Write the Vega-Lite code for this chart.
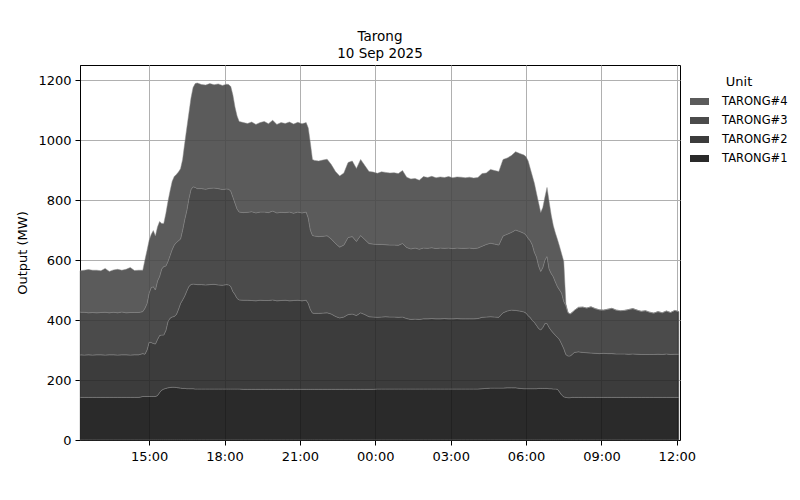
{
"$schema": "https://vega.github.io/schema/vega-lite/v6.json",
"width": 600, "height": 375,
"autosize": {"type": "none"},
"padding": {"left": 80, "top": 65, "right": 120, "bottom": 60},
"background": "white",
"title": {"text": ["Tarong", "10 Sep 2025"], "fontSize": 13.5, "font": "DejaVu Sans", "fontWeight": "normal", "anchor": "middle", "offset": 5, "lineHeight": 17, "color": "black"},
"data": {"values": [
{"t":"2025-09-09T12:15","TARONG#1":142,"TARONG#2":142,"TARONG#3":142,"TARONG#4":138},
{"t":"2025-09-09T12:25","TARONG#1":142,"TARONG#2":141,"TARONG#3":143,"TARONG#4":140},
{"t":"2025-09-09T12:35","TARONG#1":142,"TARONG#2":142,"TARONG#3":140,"TARONG#4":144},
{"t":"2025-09-09T12:45","TARONG#1":142,"TARONG#2":141,"TARONG#3":142,"TARONG#4":141},
{"t":"2025-09-09T12:55","TARONG#1":142,"TARONG#2":142,"TARONG#3":140,"TARONG#4":142},
{"t":"2025-09-09T13:05","TARONG#1":142,"TARONG#2":142,"TARONG#3":141,"TARONG#4":139},
{"t":"2025-09-09T13:15","TARONG#1":142,"TARONG#2":141,"TARONG#3":143,"TARONG#4":146},
{"t":"2025-09-09T13:25","TARONG#1":142,"TARONG#2":142,"TARONG#3":140,"TARONG#4":138},
{"t":"2025-09-09T13:35","TARONG#1":142,"TARONG#2":142,"TARONG#3":142,"TARONG#4":141},
{"t":"2025-09-09T13:45","TARONG#1":142,"TARONG#2":141,"TARONG#3":141,"TARONG#4":145},
{"t":"2025-09-09T13:55","TARONG#1":142,"TARONG#2":142,"TARONG#3":143,"TARONG#4":139},
{"t":"2025-09-09T14:05","TARONG#1":142,"TARONG#2":142,"TARONG#3":140,"TARONG#4":145},
{"t":"2025-09-09T14:15","TARONG#1":142,"TARONG#2":141,"TARONG#3":142,"TARONG#4":150},
{"t":"2025-09-09T14:25","TARONG#1":142,"TARONG#2":142,"TARONG#3":141,"TARONG#4":140},
{"t":"2025-09-09T14:35","TARONG#1":142,"TARONG#2":142,"TARONG#3":141,"TARONG#4":141},
{"t":"2025-09-09T14:45","TARONG#1":145,"TARONG#2":143,"TARONG#3":140,"TARONG#4":138},
{"t":"2025-09-09T14:50","TARONG#1":145,"TARONG#2":141,"TARONG#3":153,"TARONG#4":161},
{"t":"2025-09-09T14:55","TARONG#1":145,"TARONG#2":155,"TARONG#3":155,"TARONG#4":177},
{"t":"2025-09-09T15:00","TARONG#1":145,"TARONG#2":181,"TARONG#3":164,"TARONG#4":175},
{"t":"2025-09-09T15:05","TARONG#1":145,"TARONG#2":180,"TARONG#3":183,"TARONG#4":177},
{"t":"2025-09-09T15:10","TARONG#1":145,"TARONG#2":177,"TARONG#3":189,"TARONG#4":187},
{"t":"2025-09-09T15:15","TARONG#1":145,"TARONG#2":175,"TARONG#3":180,"TARONG#4":180},
{"t":"2025-09-09T15:20","TARONG#1":148,"TARONG#2":187,"TARONG#3":195,"TARONG#4":180},
{"t":"2025-09-09T15:25","TARONG#1":158,"TARONG#2":190,"TARONG#3":197,"TARONG#4":183},
{"t":"2025-09-09T15:30","TARONG#1":166,"TARONG#2":184,"TARONG#3":220,"TARONG#4":152},
{"t":"2025-09-09T15:35","TARONG#1":170,"TARONG#2":180,"TARONG#3":228,"TARONG#4":144},
{"t":"2025-09-09T15:40","TARONG#1":172,"TARONG#2":193,"TARONG#3":215,"TARONG#4":175},
{"t":"2025-09-09T15:45","TARONG#1":174,"TARONG#2":221,"TARONG#3":200,"TARONG#4":200},
{"t":"2025-09-09T15:50","TARONG#1":175,"TARONG#2":231,"TARONG#3":209,"TARONG#4":215},
{"t":"2025-09-09T15:55","TARONG#1":176,"TARONG#2":234,"TARONG#3":225,"TARONG#4":227},
{"t":"2025-09-09T16:00","TARONG#1":176,"TARONG#2":236,"TARONG#3":238,"TARONG#4":228},
{"t":"2025-09-09T16:05","TARONG#1":175,"TARONG#2":243,"TARONG#3":240,"TARONG#4":227},
{"t":"2025-09-09T16:10","TARONG#1":174,"TARONG#2":261,"TARONG#3":229,"TARONG#4":229},
{"t":"2025-09-09T16:15","TARONG#1":173,"TARONG#2":282,"TARONG#3":215,"TARONG#4":234},
{"t":"2025-09-09T16:20","TARONG#1":172,"TARONG#2":295,"TARONG#3":233,"TARONG#4":235},
{"t":"2025-09-09T16:25","TARONG#1":172,"TARONG#2":308,"TARONG#3":255,"TARONG#4":254},
{"t":"2025-09-09T16:30","TARONG#1":171,"TARONG#2":326,"TARONG#3":268,"TARONG#4":275},
{"t":"2025-09-09T16:35","TARONG#1":171,"TARONG#2":341,"TARONG#3":293,"TARONG#4":285},
{"t":"2025-09-09T16:40","TARONG#1":171,"TARONG#2":347,"TARONG#3":317,"TARONG#4":305},
{"t":"2025-09-09T16:45","TARONG#1":171,"TARONG#2":349,"TARONG#3":324,"TARONG#4":331},
{"t":"2025-09-09T16:50","TARONG#1":170,"TARONG#2":349,"TARONG#3":323,"TARONG#4":346},
{"t":"2025-09-09T16:55","TARONG#1":170,"TARONG#2":348,"TARONG#3":320,"TARONG#4":352},
{"t":"2025-09-09T17:05","TARONG#1":170,"TARONG#2":348,"TARONG#3":320,"TARONG#4":347},
{"t":"2025-09-09T17:15","TARONG#1":170,"TARONG#2":347,"TARONG#3":319,"TARONG#4":347},
{"t":"2025-09-09T17:25","TARONG#1":170,"TARONG#2":348,"TARONG#3":321,"TARONG#4":349},
{"t":"2025-09-09T17:35","TARONG#1":170,"TARONG#2":349,"TARONG#3":321,"TARONG#4":344},
{"t":"2025-09-09T17:45","TARONG#1":170,"TARONG#2":347,"TARONG#3":321,"TARONG#4":349},
{"t":"2025-09-09T17:55","TARONG#1":170,"TARONG#2":346,"TARONG#3":319,"TARONG#4":347},
{"t":"2025-09-09T18:05","TARONG#1":170,"TARONG#2":348,"TARONG#3":319,"TARONG#4":349},
{"t":"2025-09-09T18:10","TARONG#1":170,"TARONG#2":347,"TARONG#3":319,"TARONG#4":349},
{"t":"2025-09-09T18:15","TARONG#1":170,"TARONG#2":342,"TARONG#3":318,"TARONG#4":348},
{"t":"2025-09-09T18:20","TARONG#1":170,"TARONG#2":325,"TARONG#3":315,"TARONG#4":340},
{"t":"2025-09-09T18:25","TARONG#1":170,"TARONG#2":315,"TARONG#3":305,"TARONG#4":320},
{"t":"2025-09-09T18:30","TARONG#1":170,"TARONG#2":302,"TARONG#3":298,"TARONG#4":310},
{"t":"2025-09-09T18:35","TARONG#1":170,"TARONG#2":297,"TARONG#3":293,"TARONG#4":302},
{"t":"2025-09-09T18:45","TARONG#1":169,"TARONG#2":297,"TARONG#3":292,"TARONG#4":300},
{"t":"2025-09-09T18:55","TARONG#1":169,"TARONG#2":297,"TARONG#3":293,"TARONG#4":296},
{"t":"2025-09-09T19:05","TARONG#1":169,"TARONG#2":296,"TARONG#3":296,"TARONG#4":299},
{"t":"2025-09-09T19:15","TARONG#1":169,"TARONG#2":295,"TARONG#3":293,"TARONG#4":295},
{"t":"2025-09-09T19:25","TARONG#1":169,"TARONG#2":297,"TARONG#3":294,"TARONG#4":298},
{"t":"2025-09-09T19:35","TARONG#1":169,"TARONG#2":296,"TARONG#3":295,"TARONG#4":302},
{"t":"2025-09-09T19:45","TARONG#1":169,"TARONG#2":296,"TARONG#3":293,"TARONG#4":296},
{"t":"2025-09-09T19:55","TARONG#1":169,"TARONG#2":298,"TARONG#3":296,"TARONG#4":303},
{"t":"2025-09-09T20:05","TARONG#1":169,"TARONG#2":295,"TARONG#3":293,"TARONG#4":295},
{"t":"2025-09-09T20:15","TARONG#1":169,"TARONG#2":296,"TARONG#3":294,"TARONG#4":299},
{"t":"2025-09-09T20:25","TARONG#1":169,"TARONG#2":297,"TARONG#3":292,"TARONG#4":297},
{"t":"2025-09-09T20:35","TARONG#1":169,"TARONG#2":295,"TARONG#3":296,"TARONG#4":300},
{"t":"2025-09-09T20:45","TARONG#1":169,"TARONG#2":296,"TARONG#3":291,"TARONG#4":297},
{"t":"2025-09-09T20:55","TARONG#1":169,"TARONG#2":297,"TARONG#3":294,"TARONG#4":299},
{"t":"2025-09-09T21:05","TARONG#1":169,"TARONG#2":295,"TARONG#3":293,"TARONG#4":297},
{"t":"2025-09-09T21:15","TARONG#1":169,"TARONG#2":297,"TARONG#3":294,"TARONG#4":298},
{"t":"2025-09-09T21:20","TARONG#1":169,"TARONG#2":286,"TARONG#3":285,"TARONG#4":300},
{"t":"2025-09-09T21:25","TARONG#1":169,"TARONG#2":266,"TARONG#3":265,"TARONG#4":290},
{"t":"2025-09-09T21:30","TARONG#1":169,"TARONG#2":254,"TARONG#3":259,"TARONG#4":253},
{"t":"2025-09-09T21:35","TARONG#1":169,"TARONG#2":253,"TARONG#3":258,"TARONG#4":252},
{"t":"2025-09-09T21:45","TARONG#1":169,"TARONG#2":253,"TARONG#3":256,"TARONG#4":252},
{"t":"2025-09-09T21:55","TARONG#1":169,"TARONG#2":254,"TARONG#3":256,"TARONG#4":254},
{"t":"2025-09-09T22:05","TARONG#1":169,"TARONG#2":255,"TARONG#3":257,"TARONG#4":255},
{"t":"2025-09-09T22:15","TARONG#1":169,"TARONG#2":251,"TARONG#3":250,"TARONG#4":248},
{"t":"2025-09-09T22:25","TARONG#1":169,"TARONG#2":243,"TARONG#3":243,"TARONG#4":240},
{"t":"2025-09-09T22:35","TARONG#1":169,"TARONG#2":238,"TARONG#3":236,"TARONG#4":237},
{"t":"2025-09-09T22:45","TARONG#1":169,"TARONG#2":241,"TARONG#3":240,"TARONG#4":240},
{"t":"2025-09-09T22:55","TARONG#1":169,"TARONG#2":249,"TARONG#3":257,"TARONG#4":250},
{"t":"2025-09-09T23:05","TARONG#1":169,"TARONG#2":251,"TARONG#3":258,"TARONG#4":252},
{"t":"2025-09-09T23:15","TARONG#1":169,"TARONG#2":246,"TARONG#3":247,"TARONG#4":243},
{"t":"2025-09-09T23:25","TARONG#1":169,"TARONG#2":255,"TARONG#3":258,"TARONG#4":253},
{"t":"2025-09-09T23:35","TARONG#1":169,"TARONG#2":249,"TARONG#3":250,"TARONG#4":247},
{"t":"2025-09-09T23:45","TARONG#1":169,"TARONG#2":242,"TARONG#3":244,"TARONG#4":240},
{"t":"2025-09-09T23:55","TARONG#1":169,"TARONG#2":241,"TARONG#3":243,"TARONG#4":240},
{"t":"2025-09-10T00:05","TARONG#1":170,"TARONG#2":239,"TARONG#3":243,"TARONG#4":237},
{"t":"2025-09-10T00:15","TARONG#1":170,"TARONG#2":240,"TARONG#3":242,"TARONG#4":242},
{"t":"2025-09-10T00:25","TARONG#1":170,"TARONG#2":241,"TARONG#3":240,"TARONG#4":241},
{"t":"2025-09-10T00:35","TARONG#1":170,"TARONG#2":240,"TARONG#3":240,"TARONG#4":240},
{"t":"2025-09-10T00:45","TARONG#1":170,"TARONG#2":240,"TARONG#3":240,"TARONG#4":241},
{"t":"2025-09-10T00:55","TARONG#1":170,"TARONG#2":239,"TARONG#3":240,"TARONG#4":239},
{"t":"2025-09-10T01:05","TARONG#1":170,"TARONG#2":240,"TARONG#3":245,"TARONG#4":243},
{"t":"2025-09-10T01:15","TARONG#1":170,"TARONG#2":235,"TARONG#3":237,"TARONG#4":234},
{"t":"2025-09-10T01:25","TARONG#1":170,"TARONG#2":232,"TARONG#3":235,"TARONG#4":233},
{"t":"2025-09-10T01:35","TARONG#1":170,"TARONG#2":233,"TARONG#3":237,"TARONG#4":232},
{"t":"2025-09-10T01:45","TARONG#1":170,"TARONG#2":232,"TARONG#3":234,"TARONG#4":230},
{"t":"2025-09-10T01:55","TARONG#1":170,"TARONG#2":234,"TARONG#3":236,"TARONG#4":238},
{"t":"2025-09-10T02:05","TARONG#1":170,"TARONG#2":234,"TARONG#3":235,"TARONG#4":236},
{"t":"2025-09-10T02:15","TARONG#1":170,"TARONG#2":235,"TARONG#3":236,"TARONG#4":238},
{"t":"2025-09-10T02:25","TARONG#1":170,"TARONG#2":234,"TARONG#3":234,"TARONG#4":236},
{"t":"2025-09-10T02:35","TARONG#1":170,"TARONG#2":234,"TARONG#3":236,"TARONG#4":237},
{"t":"2025-09-10T02:45","TARONG#1":170,"TARONG#2":235,"TARONG#3":234,"TARONG#4":236},
{"t":"2025-09-10T02:55","TARONG#1":170,"TARONG#2":234,"TARONG#3":236,"TARONG#4":238},
{"t":"2025-09-10T03:05","TARONG#1":170,"TARONG#2":234,"TARONG#3":234,"TARONG#4":236},
{"t":"2025-09-10T03:15","TARONG#1":170,"TARONG#2":235,"TARONG#3":235,"TARONG#4":237},
{"t":"2025-09-10T03:25","TARONG#1":170,"TARONG#2":234,"TARONG#3":235,"TARONG#4":237},
{"t":"2025-09-10T03:35","TARONG#1":170,"TARONG#2":234,"TARONG#3":235,"TARONG#4":235},
{"t":"2025-09-10T03:45","TARONG#1":170,"TARONG#2":234,"TARONG#3":236,"TARONG#4":236},
{"t":"2025-09-10T03:55","TARONG#1":170,"TARONG#2":234,"TARONG#3":234,"TARONG#4":235},
{"t":"2025-09-10T04:05","TARONG#1":170,"TARONG#2":235,"TARONG#3":235,"TARONG#4":235},
{"t":"2025-09-10T04:15","TARONG#1":171,"TARONG#2":238,"TARONG#3":237,"TARONG#4":242},
{"t":"2025-09-10T04:25","TARONG#1":172,"TARONG#2":238,"TARONG#3":242,"TARONG#4":238},
{"t":"2025-09-10T04:35","TARONG#1":173,"TARONG#2":238,"TARONG#3":245,"TARONG#4":246},
{"t":"2025-09-10T04:45","TARONG#1":173,"TARONG#2":237,"TARONG#3":243,"TARONG#4":245},
{"t":"2025-09-10T04:55","TARONG#1":173,"TARONG#2":236,"TARONG#3":241,"TARONG#4":245},
{"t":"2025-09-10T05:05","TARONG#1":173,"TARONG#2":251,"TARONG#3":256,"TARONG#4":255},
{"t":"2025-09-10T05:15","TARONG#1":174,"TARONG#2":256,"TARONG#3":256,"TARONG#4":254},
{"t":"2025-09-10T05:25","TARONG#1":174,"TARONG#2":259,"TARONG#3":259,"TARONG#4":256},
{"t":"2025-09-10T05:35","TARONG#1":174,"TARONG#2":258,"TARONG#3":268,"TARONG#4":261},
{"t":"2025-09-10T05:45","TARONG#1":172,"TARONG#2":258,"TARONG#3":265,"TARONG#4":260},
{"t":"2025-09-10T05:55","TARONG#1":171,"TARONG#2":256,"TARONG#3":262,"TARONG#4":261},
{"t":"2025-09-10T06:00","TARONG#1":171,"TARONG#2":252,"TARONG#3":260,"TARONG#4":261},
{"t":"2025-09-10T06:05","TARONG#1":171,"TARONG#2":243,"TARONG#3":258,"TARONG#4":258},
{"t":"2025-09-10T06:10","TARONG#1":171,"TARONG#2":237,"TARONG#3":256,"TARONG#4":241},
{"t":"2025-09-10T06:15","TARONG#1":171,"TARONG#2":227,"TARONG#3":252,"TARONG#4":230},
{"t":"2025-09-10T06:20","TARONG#1":171,"TARONG#2":221,"TARONG#3":233,"TARONG#4":230},
{"t":"2025-09-10T06:25","TARONG#1":171,"TARONG#2":211,"TARONG#3":228,"TARONG#4":212},
{"t":"2025-09-10T06:30","TARONG#1":172,"TARONG#2":200,"TARONG#3":208,"TARONG#4":210},
{"t":"2025-09-10T06:35","TARONG#1":172,"TARONG#2":195,"TARONG#3":195,"TARONG#4":196},
{"t":"2025-09-10T06:40","TARONG#1":172,"TARONG#2":203,"TARONG#3":200,"TARONG#4":200},
{"t":"2025-09-10T06:45","TARONG#1":172,"TARONG#2":216,"TARONG#3":212,"TARONG#4":210},
{"t":"2025-09-10T06:50","TARONG#1":172,"TARONG#2":216,"TARONG#3":224,"TARONG#4":230},
{"t":"2025-09-10T06:55","TARONG#1":171,"TARONG#2":204,"TARONG#3":195,"TARONG#4":225},
{"t":"2025-09-10T07:00","TARONG#1":171,"TARONG#2":194,"TARONG#3":190,"TARONG#4":195},
{"t":"2025-09-10T07:05","TARONG#1":170,"TARONG#2":187,"TARONG#3":187,"TARONG#4":171},
{"t":"2025-09-10T07:10","TARONG#1":170,"TARONG#2":179,"TARONG#3":178,"TARONG#4":163},
{"t":"2025-09-10T07:15","TARONG#1":169,"TARONG#2":173,"TARONG#3":169,"TARONG#4":157},
{"t":"2025-09-10T07:20","TARONG#1":160,"TARONG#2":174,"TARONG#3":166,"TARONG#4":145},
{"t":"2025-09-10T07:25","TARONG#1":150,"TARONG#2":170,"TARONG#3":169,"TARONG#4":131},
{"t":"2025-09-10T07:30","TARONG#1":144,"TARONG#2":161,"TARONG#3":157,"TARONG#4":133},
{"t":"2025-09-10T07:35","TARONG#1":142,"TARONG#2":143,"TARONG#3":163,"TARONG#4":7},
{"t":"2025-09-10T07:40","TARONG#1":141,"TARONG#2":139,"TARONG#3":145,"TARONG#4":0},
{"t":"2025-09-10T07:45","TARONG#1":141,"TARONG#2":139,"TARONG#3":140,"TARONG#4":0},
{"t":"2025-09-10T07:50","TARONG#1":142,"TARONG#2":143,"TARONG#3":140,"TARONG#4":0},
{"t":"2025-09-10T07:55","TARONG#1":142,"TARONG#2":150,"TARONG#3":140,"TARONG#4":0},
{"t":"2025-09-10T08:05","TARONG#1":142,"TARONG#2":152,"TARONG#3":148,"TARONG#4":0},
{"t":"2025-09-10T08:15","TARONG#1":142,"TARONG#2":150,"TARONG#3":151,"TARONG#4":0},
{"t":"2025-09-10T08:25","TARONG#1":142,"TARONG#2":149,"TARONG#3":149,"TARONG#4":0},
{"t":"2025-09-10T08:35","TARONG#1":142,"TARONG#2":148,"TARONG#3":154,"TARONG#4":0},
{"t":"2025-09-10T08:45","TARONG#1":142,"TARONG#2":147,"TARONG#3":149,"TARONG#4":0},
{"t":"2025-09-10T08:55","TARONG#1":142,"TARONG#2":146,"TARONG#3":146,"TARONG#4":0},
{"t":"2025-09-10T09:05","TARONG#1":142,"TARONG#2":147,"TARONG#3":144,"TARONG#4":0},
{"t":"2025-09-10T09:15","TARONG#1":142,"TARONG#2":146,"TARONG#3":148,"TARONG#4":0},
{"t":"2025-09-10T09:25","TARONG#1":142,"TARONG#2":146,"TARONG#3":151,"TARONG#4":0},
{"t":"2025-09-10T09:35","TARONG#1":142,"TARONG#2":145,"TARONG#3":146,"TARONG#4":0},
{"t":"2025-09-10T09:45","TARONG#1":142,"TARONG#2":145,"TARONG#3":144,"TARONG#4":0},
{"t":"2025-09-10T09:55","TARONG#1":142,"TARONG#2":145,"TARONG#3":145,"TARONG#4":0},
{"t":"2025-09-10T10:05","TARONG#1":142,"TARONG#2":144,"TARONG#3":149,"TARONG#4":0},
{"t":"2025-09-10T10:15","TARONG#1":142,"TARONG#2":145,"TARONG#3":151,"TARONG#4":0},
{"t":"2025-09-10T10:25","TARONG#1":142,"TARONG#2":144,"TARONG#3":147,"TARONG#4":0},
{"t":"2025-09-10T10:35","TARONG#1":142,"TARONG#2":143,"TARONG#3":144,"TARONG#4":0},
{"t":"2025-09-10T10:45","TARONG#1":142,"TARONG#2":143,"TARONG#3":146,"TARONG#4":0},
{"t":"2025-09-10T10:55","TARONG#1":142,"TARONG#2":143,"TARONG#3":141,"TARONG#4":0},
{"t":"2025-09-10T11:05","TARONG#1":142,"TARONG#2":143,"TARONG#3":138,"TARONG#4":0},
{"t":"2025-09-10T11:15","TARONG#1":142,"TARONG#2":144,"TARONG#3":142,"TARONG#4":0},
{"t":"2025-09-10T11:25","TARONG#1":142,"TARONG#2":143,"TARONG#3":139,"TARONG#4":0},
{"t":"2025-09-10T11:35","TARONG#1":142,"TARONG#2":145,"TARONG#3":143,"TARONG#4":0},
{"t":"2025-09-10T11:45","TARONG#1":142,"TARONG#2":143,"TARONG#3":140,"TARONG#4":0},
{"t":"2025-09-10T11:55","TARONG#1":142,"TARONG#2":144,"TARONG#3":146,"TARONG#4":0},
{"t":"2025-09-10T12:05","TARONG#1":142,"TARONG#2":144,"TARONG#3":142,"TARONG#4":0}
]},
"transform": [{"fold": ["TARONG#1", "TARONG#2", "TARONG#3", "TARONG#4"], "as": ["Unit", "MW"]}],
"mark": {"type": "area", "fillOpacity": 0.88, "stroke": "#8a8a8a", "strokeWidth": 0.6, "strokeOpacity": 0.8},
"encoding": {
  "x": {"field": "t", "type": "temporal",
        "scale": {"domain": [{"year": 2025, "month": 9, "date": 9, "hours": 12, "minutes": 15}, {"year": 2025, "month": 9, "date": 10, "hours": 12, "minutes": 7, "seconds": 30}]},
        "axis": {"format": "%H:%M", "title": null, "labelFlush": false, "tickSize": 5, "labelPadding": 5,
                 "values": [{"year": 2025, "month": 9, "date": 9, "hours": 15}, {"year": 2025, "month": 9, "date": 9, "hours": 18}, {"year": 2025, "month": 9, "date": 9, "hours": 21}, {"year": 2025, "month": 9, "date": 10, "hours": 0}, {"year": 2025, "month": 9, "date": 10, "hours": 3}, {"year": 2025, "month": 9, "date": 10, "hours": 6}, {"year": 2025, "month": 9, "date": 10, "hours": 9}, {"year": 2025, "month": 9, "date": 10, "hours": 12}]}},
  "y": {"field": "MW", "type": "quantitative", "stack": "zero",
        "scale": {"domain": [0, 1250], "nice": false},
        "axis": {"values": [0, 200, 400, 600, 800, 1000, 1200], "format": "d", "title": "Output (MW)", "titlePadding": 8, "tickSize": 5, "labelPadding": 4}},
  "color": {"field": "Unit", "type": "nominal",
            "scale": {"domain": ["TARONG#4", "TARONG#3", "TARONG#2", "TARONG#1"], "range": ["#444444", "#323232", "#212121", "#0d0d0d"]},
            "legend": {"title": "Unit", "orient": "none", "legendX": 610, "legendY": 11, "symbolType": "M-1,-0.37H1V0.37H-1Z", "symbolSize": 361, "symbolStrokeWidth": 0, "symbolOpacity": 0.88, "rowPadding": 4, "labelOffset": 13, "titlePadding": 3, "titleAnchor": "middle"}},
  "order": {"field": "Unit", "type": "nominal", "sort": "ascending"}
},
"config": {
  "font": "DejaVu Sans",
  "view": {"stroke": "black", "strokeWidth": 1},
  "axis": {"domainColor": "black", "tickColor": "black", "labelFontSize": 13, "labelColor": "black", "labelFont": "DejaVu Sans", "titleFont": "DejaVu Sans", "titleFontSize": 13, "titleFontWeight": "normal", "titleColor": "black", "gridColor": "#b0b0b0", "gridWidth": 1},
  "legend": {"titleFont": "DejaVu Sans", "titleFontSize": 13, "titleFontWeight": "normal", "titleColor": "black", "labelFont": "DejaVu Sans", "labelFontSize": 11.5, "labelColor": "black"}
}
}
